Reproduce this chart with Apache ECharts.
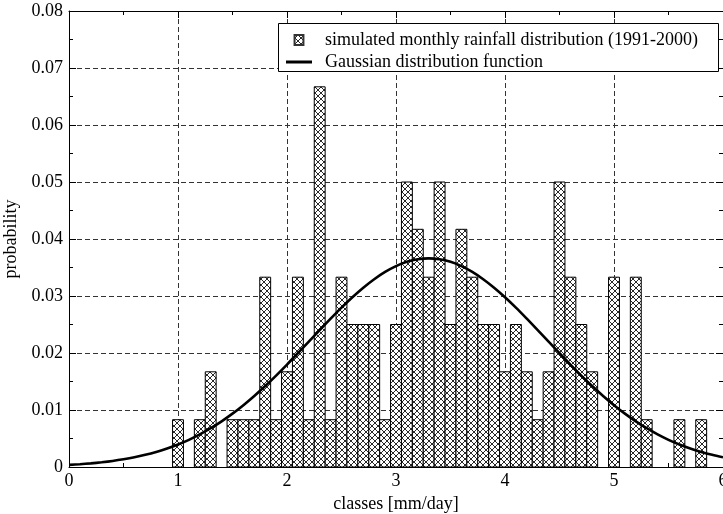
<!DOCTYPE html>
<html>
<head>
<meta charset="utf-8">
<script src="https://cdn.jsdelivr.net/npm/echarts@6/dist/echarts.min.js"></script>
<style>
  html, body { margin: 0; padding: 0; background: #fff; }
  #chart { width: 723px; height: 514px; }
</style>
</head>
<body>
<div id="chart"></div>
<script>
// Histogram classes (bin centres, mm/day) and their relative frequencies
var binCenters = [1.0, 1.2, 1.3, 1.5, 1.6, 1.7, 1.8, 1.9, 2.0, 2.1, 2.2, 2.3, 2.4, 2.5,
                  2.6, 2.7, 2.8, 2.9, 3.0, 3.1, 3.2, 3.3, 3.4, 3.5, 3.6, 3.7, 3.8, 3.9,
                  4.0, 4.1, 4.2, 4.3, 4.4, 4.5, 4.6, 4.7, 4.8, 5.0, 5.2, 5.3, 5.6, 5.8];
var binProb = [0.0083, 0.0083, 0.0167, 0.0083, 0.0083, 0.0083, 0.0333, 0.0083, 0.0167, 0.0333, 0.0083, 0.0667, 0.0083, 0.0333,
               0.025, 0.025, 0.025, 0.0083, 0.025, 0.05, 0.0417, 0.0333, 0.05, 0.025, 0.0417, 0.0333, 0.025, 0.025,
               0.0167, 0.025, 0.0167, 0.0083, 0.0167, 0.05, 0.0333, 0.025, 0.0167, 0.0333, 0.0333, 0.0083, 0.0083, 0.0083];
var binWidth = 0.1;

// Fitted Gaussian curve samples
var curveX = [0.0, 0.1, 0.2, 0.3, 0.4, 0.5, 0.6, 0.7, 0.8, 0.9,
              1.0, 1.1, 1.2, 1.3, 1.4, 1.5, 1.6, 1.7, 1.8, 1.9,
              2.0, 2.1, 2.2, 2.3, 2.4, 2.5, 2.6, 2.7, 2.8, 2.9,
              3.0, 3.1, 3.2, 3.3, 3.4, 3.5, 3.6, 3.7, 3.8, 3.9,
              4.0, 4.1, 4.2, 4.3, 4.4, 4.5, 4.6, 4.7, 4.8, 4.9,
              5.0, 5.1, 5.2, 5.3, 5.4, 5.5, 5.6, 5.7, 5.8, 5.9, 6.0];
var curveY = [0.00037, 0.00049, 0.00064, 0.00083, 0.00106, 0.00135, 0.00170, 0.00213, 0.00264, 0.00324,
              0.00395, 0.00477, 0.00572, 0.00680, 0.00801, 0.00936, 0.01085, 0.01246, 0.01420, 0.01604,
              0.01797, 0.01997, 0.02200, 0.02403, 0.02602, 0.02796, 0.02978, 0.03145, 0.03294, 0.03422,
              0.03524, 0.03599, 0.03645, 0.03660, 0.03645, 0.03599, 0.03524, 0.03422, 0.03294, 0.03145,
              0.02978, 0.02796, 0.02602, 0.02403, 0.02200, 0.01997, 0.01797, 0.01604, 0.01420, 0.01246,
              0.01085, 0.00936, 0.00801, 0.00680, 0.00572, 0.00477, 0.00395, 0.00324, 0.00264, 0.00213, 0.00170];

// Axis tick labels
var xTickLabels = ['0', '1', '2', '3', '4', '5', '6'];
var yTickLabels = ['0', '0.01', '0.02', '0.03', '0.04', '0.05', '0.06', '0.07', '0.08'];

var seriesBarName = 'simulated monthly rainfall distribution (1991-2000)';
var seriesLineName = 'Gaussian distribution function';

var FONT = "'Liberation Serif', 'Times New Roman', serif";
var FS = 18;

// cross-hatch fill
function makeHatch() {
  var c = document.createElement('canvas');
  var s = 6;
  c.width = s; c.height = s;
  var g = c.getContext('2d');
  g.fillStyle = '#ffffff';
  g.fillRect(0, 0, s, s);
  g.strokeStyle = '#111';
  g.lineWidth = 0.9;
  g.beginPath();
  g.moveTo(0, 0); g.lineTo(s, s);
  g.moveTo(s, 0); g.lineTo(0, s);
  g.moveTo(-s / 2, s / 2); g.lineTo(s / 2, s * 1.5);
  g.moveTo(s / 2, -s / 2); g.lineTo(s * 1.5, s / 2);
  g.stroke();
  return { image: c, repeat: 'repeat' };
}
var hatch = makeHatch();

var histData = binCenters.map(function (x, i) { return [x, binProb[i]]; });
var curveData = curveX.map(function (x, i) { return [x, curveY[i]]; });

var chart = echarts.init(document.getElementById('chart'), null, { renderer: 'canvas' });

var gridLine = { show: true, lineStyle: { color: '#333', width: 1, type: [5, 3] } };
var frameLine = { show: true, onZero: false, lineStyle: { color: '#000', width: 1 } };
var majorTick = { show: true, inside: true, length: 7, lineStyle: { color: '#000' } };
var minorTick = { show: true, splitNumber: 2, length: 4, lineStyle: { color: '#000' } };

chart.setOption({
  animation: false,
  backgroundColor: '#fff',
  textStyle: { fontFamily: FONT },
  grid: { left: 69, right: 0, top: 11, bottom: 47, containLabel: false, outerBoundsMode: 'none' },
  xAxis: [{
    type: 'value', min: 0, max: 6, interval: 1, position: 'bottom',
    name: 'classes [mm/day]', nameLocation: 'middle', nameGap: 23,
    nameTextStyle: { color: '#000', fontFamily: FONT, fontSize: FS },
    axisLine: frameLine, axisTick: majorTick, minorTick: minorTick,
    axisLabel: {
      color: '#000', fontFamily: FONT, fontSize: FS, margin: 5,
      formatter: function (v) { return xTickLabels[Math.round(v)]; }
    },
    splitLine: gridLine
  }, {
    type: 'value', min: 0, max: 6, interval: 1, position: 'top',
    axisLine: frameLine, axisTick: majorTick, minorTick: minorTick,
    axisLabel: { show: false },
    splitLine: { show: false }
  }],
  yAxis: [{
    type: 'value', min: 0, max: 0.08, interval: 0.01, position: 'left',
    name: 'probability', nameLocation: 'middle', nameGap: 42, nameRotate: 90,
    nameTextStyle: { color: '#000', fontFamily: FONT, fontSize: FS },
    axisLine: frameLine, axisTick: majorTick, minorTick: minorTick,
    axisLabel: {
      color: '#000', fontFamily: FONT, fontSize: FS, margin: 6,
      formatter: function (v) { return yTickLabels[Math.round(v * 100)]; }
    },
    splitLine: gridLine
  }, {
    type: 'value', min: 0, max: 0.08, interval: 0.01, position: 'right',
    axisLine: frameLine, axisTick: majorTick, minorTick: minorTick,
    axisLabel: { show: false },
    splitLine: { show: false }
  }],
  graphic: [{
    type: 'rect', z: 3,
    shape: { x: 278.5, y: 23.5, width: 440, height: 48 },
    style: { fill: '#fff', stroke: '#000', lineWidth: 1 }
  }],
  legend: {
    orient: 'vertical', left: 286, top: 30, z: 5, padding: 0,
    itemWidth: 26, itemHeight: 10, itemGap: 2,
    textStyle: { color: '#000', fontFamily: FONT, fontSize: FS, lineHeight: 20, padding: [0, 0, 0, 8] },
    data: [
      { name: seriesBarName, icon: 'path://M0,0H8V9H0Z' },
      { name: seriesLineName, icon: 'path://M0,0H26V3H0Z', itemStyle: { color: '#000', borderWidth: 0 } }
    ]
  },
  series: [{
    name: seriesBarName,
    type: 'custom',
    xAxisIndex: 0, yAxisIndex: 0,
    z: 2,
    itemStyle: { color: hatch, borderColor: '#333', borderWidth: 1 },
    encode: { x: 0, y: 1 },
    data: histData,
    renderItem: function (params, api) {
      var x = api.value(0), y = api.value(1);
      var p0 = api.coord([x - binWidth / 2, y]);
      var p1 = api.coord([x + binWidth / 2, 0]);
      return {
        type: 'rect',
        shape: { x: p0[0], y: p0[1], width: p1[0] - p0[0], height: p1[1] - p0[1] },
        style: { fill: hatch, stroke: '#000', lineWidth: 1 }
      };
    }
  }, {
    name: seriesLineName,
    type: 'line',
    xAxisIndex: 0, yAxisIndex: 0,
    z: 3,
    smooth: 0.3,
    symbol: 'none',
    showSymbol: false,
    lineStyle: { color: '#000', width: 2.6 },
    itemStyle: { color: '#000' },
    data: curveData
  }]
});
</script>
</body>
</html>
